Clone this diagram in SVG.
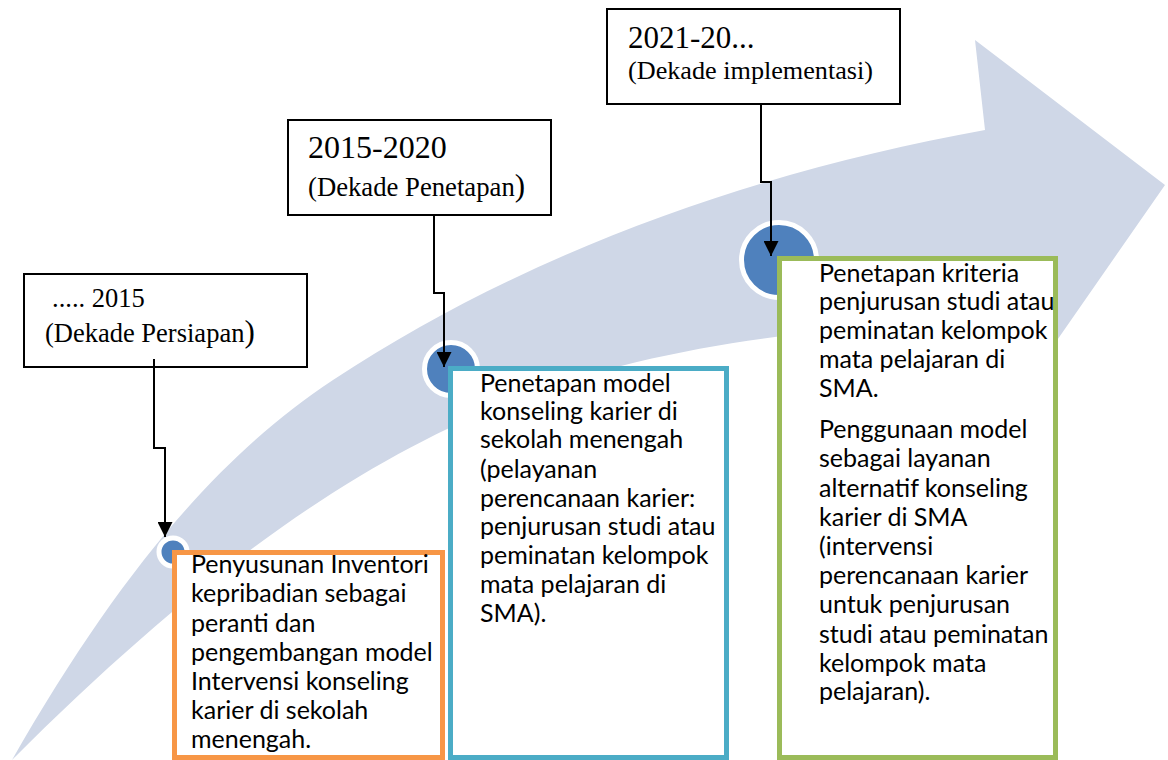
<svg xmlns="http://www.w3.org/2000/svg" width="1168" height="760" viewBox="0 0 1168 760">
<defs>
<style>
.band{fill:#CFD7E7;stroke:none}
.dot{fill:#4F81BD;stroke:#FFFFFF}
.lbl{fill:#FFFFFF;stroke:#000000;stroke-width:2}
.ser{font-family:"Liberation Serif","Times New Roman",serif;fill:#000000}
.body{font-family:Lato,"Liberation Sans",sans-serif;font-size:25px;fill:#000000}
.con{fill:none;stroke:#000000;stroke-width:2}
.card{fill:#FFFFFF;stroke-width:5}
</style>
<marker id="ah" viewBox="0 0 16 16" refX="16" refY="8" markerWidth="15" markerHeight="15" markerUnits="userSpaceOnUse" orient="auto">
<path d="M0,0 L16,8 L0,16 z" fill="#000000"/>
</marker>
</defs>
<rect width="1168" height="760" fill="#FFFFFF"/>
<g id="band">
<path class="band" d="M12,760 C122,567.5 223,452.6 333,380 C533,248 765,169.6 985,130 L975,40 L1165,185 L1005,415 L995,312 C650,352 432,340 12,760 Z"/>
</g>
<g id="dot1"><circle class="dot" cx="173" cy="552" r="14" stroke-width="5"/></g>
<g id="dot2"><circle class="dot" cx="451" cy="369" r="26.5" stroke-width="5"/></g>
<g id="dot3"><circle class="dot" cx="779" cy="260" r="37.5" stroke-width="5"/></g>
<g id="label1">
<rect class="lbl" x="24" y="274" width="283" height="93"/>
<text class="ser" x="52" y="307" font-size="26.5">..... 2015</text>
<text class="ser" x="45" y="342" font-size="26.5">(Dekade Persiapan<tspan font-size="31">)</tspan></text>
</g>
<g id="label2">
<rect class="lbl" x="288" y="120" width="263" height="95"/>
<text class="ser" x="308" y="158" font-size="32">2015-2020</text>
<text class="ser" x="308" y="196" font-size="26.7">(Dekade Penetapan<tspan font-size="31">)</tspan></text>
</g>
<g id="label3">
<rect class="lbl" x="607" y="9" width="293" height="95"/>
<text class="ser" x="628" y="48" font-size="31">2021-20...</text>
<text class="ser" x="628" y="79" font-size="26.2">(Dekade implementasi)</text>
</g>
<g id="card1">
<rect class="card" x="174.5" y="552.5" width="268" height="205" stroke="#F79646"/>
<text class="body">
<tspan x="191" y="573">Penyusunan Inventori</tspan>
<tspan x="191" y="602">kepribadian sebagai</tspan>
<tspan x="191" y="632">peranti dan</tspan>
<tspan x="191" y="661">pengembangan model</tspan>
<tspan x="191" y="690">Intervensi konseling</tspan>
<tspan x="191" y="719">karier di sekolah</tspan>
<tspan x="191" y="748">menengah.</tspan>
</text>
</g>
<g id="card2">
<rect class="card" x="450.5" y="368.5" width="276" height="389" stroke="#4BACC6"/>
<text class="body">
<tspan x="480" y="392">Penetapan model</tspan>
<tspan x="480" y="420">konseling karier di</tspan>
<tspan x="480" y="448">sekolah menengah</tspan>
<tspan x="480" y="478">(pelayanan</tspan>
<tspan x="480" y="507">perencanaan karier:</tspan>
<tspan x="480" y="535">penjurusan studi atau</tspan>
<tspan x="480" y="564">peminatan kelompok</tspan>
<tspan x="480" y="593">mata pelajaran di</tspan>
<tspan x="480" y="622">SMA).</tspan>
</text>
</g>
<g id="card3">
<rect class="card" x="779.5" y="258.5" width="276" height="499" stroke="#9BBB59"/>
<text class="body">
<tspan x="819" y="282">Penetapan kriteria</tspan>
<tspan x="819" y="310">penjurusan studi atau</tspan>
<tspan x="819" y="339">peminatan kelompok</tspan>
<tspan x="819" y="368">mata pelajaran di</tspan>
<tspan x="819" y="397">SMA.</tspan>
<tspan x="819" y="438">Penggunaan model</tspan>
<tspan x="819" y="467">sebagai layanan</tspan>
<tspan x="819" y="497">alternatif konseling</tspan>
<tspan x="819" y="526">karier di SMA</tspan>
<tspan x="819" y="555">(intervensi</tspan>
<tspan x="819" y="584">perencanaan karier</tspan>
<tspan x="819" y="613">untuk penjurusan</tspan>
<tspan x="819" y="643">studi atau peminatan</tspan>
<tspan x="819" y="672">kelompok mata</tspan>
<tspan x="819" y="700">pelajaran).</tspan>
</text>
</g>
<g id="connectors">
<path class="con" d="M154,359 V448 H165 V537" marker-end="url(#ah)"/>
<path class="con" d="M434,215 V293 H444 V367" marker-end="url(#ah)"/>
<path class="con" d="M761,104 V182 H771 V256" marker-end="url(#ah)"/>
</g>
</svg>
